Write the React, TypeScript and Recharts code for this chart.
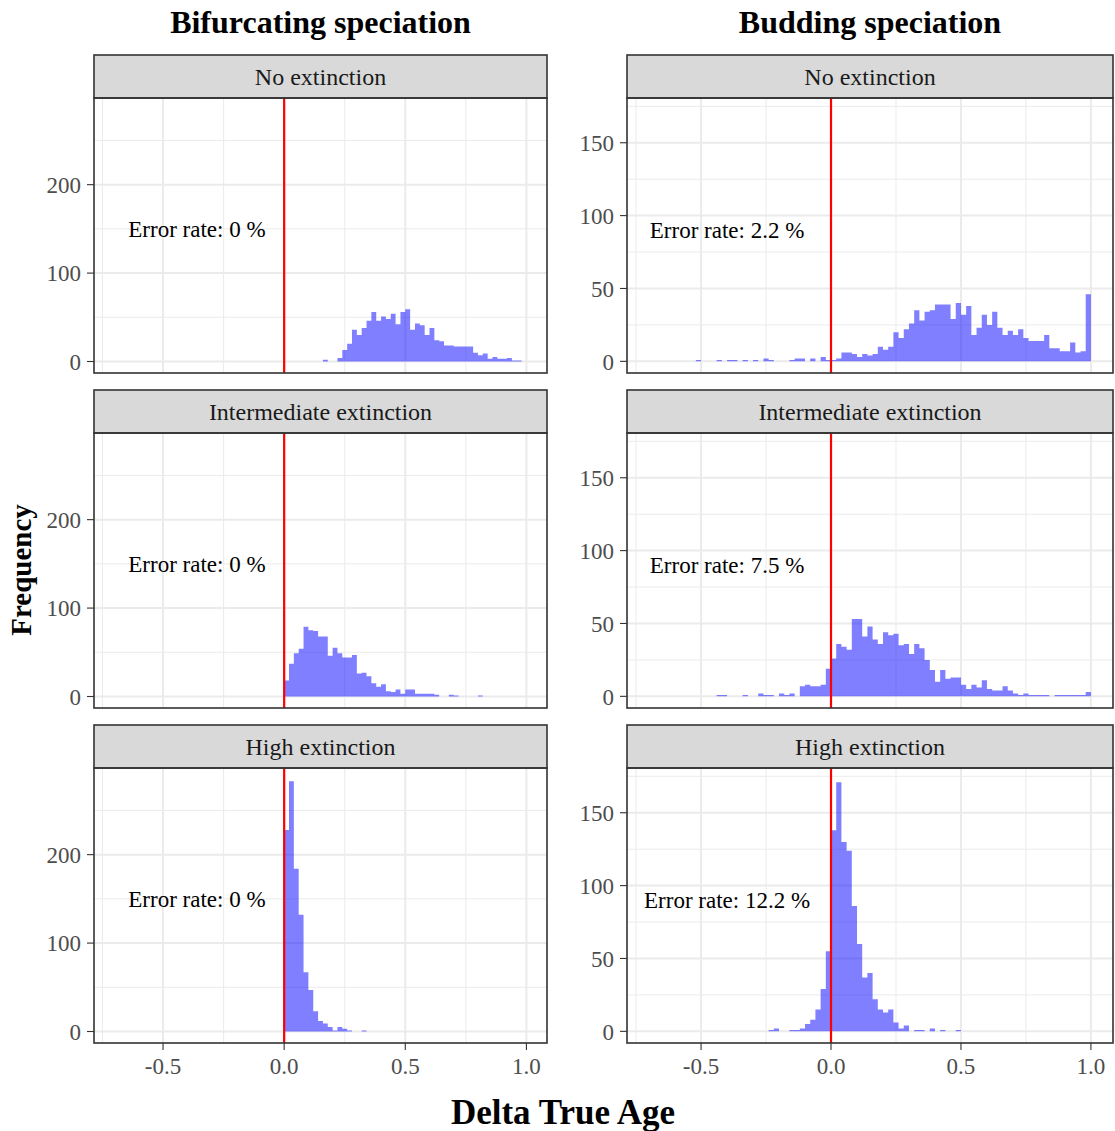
import React from 'react';
import { ComposedChart, Area, XAxis, YAxis, CartesianGrid, ReferenceLine, ReferenceDot } from 'recharts';

const FONT = "'Liberation Serif', 'Times New Roman', serif";
const BIN_WIDTH = 0.02;

const columnTitles = ['Bifurcating speciation', 'Budding speciation'];
const rowLabels = ['No extinction', 'Intermediate extinction', 'High extinction'];
const xTicks = [-0.5, 0, 0.5, 1.0];
const xMinor = [-0.75, -0.25, 0.25, 0.75];
const xDomain = [-0.785, 1.085];

const bifYTicks = [0, 100, 200];
const bifYMinor = [50, 150, 250];
const bifYDomain = [-13, 298];
const budYTicks = [0, 50, 100, 150];
const budYMinor = [25, 75, 125, 175];
const budYDomain = [-8, 180.7];

// Bifurcating speciation histograms (first bin left edge, counts per 0.02 bin)
const bifNoExtStart = 0.16;
const bifNoExtCounts = [2, 0, 0, 4, 13, 20, 36, 30, 38, 46, 56, 46, 51, 48, 54, 42, 56, 59, 36, 43, 41, 30, 38, 24, 23, 18, 18, 17, 17, 17, 17, 10, 7, 9, 3, 5, 3, 3, 4, 1, 1];
const bifMidExtStart = 0.0;
const bifMidExtCounts = [18, 37, 49, 54, 79, 75, 74, 68, 68, 46, 55, 49, 44, 44, 47, 26, 27, 23, 15, 11, 14, 6, 5, 8, 3, 8, 8, 3, 3, 3, 3, 2, 0, 0, 2, 1, 0, 0, 0, 0, 1];
const bifHighExtStart = 0.0;
const bifHighExtCounts = [228, 283, 184, 132, 67, 47, 23, 12, 9, 5, 1, 5, 3, 1, 0, 0, 1];

// Budding speciation histograms
const budNoExtStart = -0.52;
const budNoExtCounts = [1, 0, 0, 0, 1, 0, 1, 1, 0, 1, 0, 1, 0, 2, 1, 0, 0, 0, 1, 2, 2, 0, 2, 0, 3, 1, 1, 2, 6, 6, 5, 3, 5, 4, 5, 10, 8, 10, 20, 16, 22, 26, 35, 28, 34, 35, 39, 39, 39, 29, 40, 32, 38, 18, 23, 32, 25, 34, 23, 18, 21, 18, 22, 16, 14, 14, 14, 18, 9, 9, 7, 7, 13, 6, 7, 46];
const budMidExtStart = -0.44;
const budMidExtCounts = [1, 1, 0, 0, 0, 1, 0, 0, 2, 1, 1, 0, 2, 1, 2, 0, 7, 8, 7, 7, 8, 19, 26, 36, 34, 32, 53, 53, 41, 48, 39, 36, 44, 42, 43, 35, 36, 29, 36, 33, 25, 18, 10, 18, 12, 13, 13, 8, 5, 8, 6, 11, 5, 4, 4, 7, 4, 2, 1, 2, 1, 1, 1, 1, 0, 1, 1, 1, 1, 1, 1, 3];
const budHighExtStart = -0.24;
const budHighExtCounts = [1, 2, 0, 0, 1, 1, 2, 5, 8, 15, 29, 55, 138, 171, 130, 124, 86, 60, 37, 40, 22, 15, 13, 15, 6, 2, 4, 0, 1, 1, 0, 2, 0, 1, 0, 0, 1];

const bifErrorRates = ['0 %', '0 %', '0 %'];
const budErrorRates = ['2.2 %', '7.5 %', '12.2 %'];
const bifLabelPos = { x: -0.36, y: 150 };
const budLabelPos = { x: -0.4, y: 90 };

function toSteps(start: number, counts: number[]) {
  const rows = counts.map((c, i) => ({ x: +(start + i * BIN_WIDTH).toFixed(4), y: c }));
  rows.push({ x: +(start + counts.length * BIN_WIDTH).toFixed(4), y: 0 });
  return rows;
}

const fmtX = (v: number) => v.toFixed(1);

type PanelProps = {
  data: { x: number; y: number }[];
  yDomain: number[];
  yTicks: number[];
  yMinor: number[];
  showX: boolean;
  chartLeft: number;
  plotLeft: number;
  plotRight: number;
  plotTop: number;
  plotH: number;
  label: string;
  labelPos: { x: number; y: number };
};

function Panel(p: PanelProps) {
  const xAxisH = 45;
  const pad = 14;
  const width = p.plotRight - p.chartLeft;
  const height = p.plotH + (p.showX ? xAxisH : pad);
  return (
    <div style={{ position: 'absolute', left: p.chartLeft, top: p.plotTop }}>
      <ComposedChart width={width} height={height} data={p.data} margin={{ top: 0, right: 0, bottom: p.showX ? 0 : pad, left: 0 }}>
        <CartesianGrid stroke="#EBEBEB" strokeWidth={1} fill="none" verticalValues={xMinor} horizontalValues={p.yMinor} />
        <CartesianGrid stroke="#EBEBEB" strokeWidth={2} fill="none" verticalValues={xTicks} horizontalValues={p.yTicks} />
        <XAxis
          dataKey="x"
          type="number"
          domain={xDomain}
          ticks={xTicks}
          allowDataOverflow
          interval={0}
          hide={!p.showX}
          height={xAxisH}
          axisLine={false}
          tickSize={7}
          tickMargin={8}
          tickLine={{ stroke: '#333333', strokeWidth: 1.1 }}
          tick={{ fill: '#4D4D4D', fontSize: 23, fontFamily: FONT }}
          tickFormatter={fmtX}
        />
        <YAxis
          type="number"
          domain={p.yDomain}
          ticks={p.yTicks}
          allowDataOverflow
          interval={0}
          width={p.plotLeft - p.chartLeft}
          axisLine={false}
          tickSize={7}
          tickMargin={6}
          tickLine={{ stroke: '#333333', strokeWidth: 1.1 }}
          tick={{ fill: '#4D4D4D', fontSize: 23, fontFamily: FONT }}
        />
        <Area
          dataKey="y"
          type="stepAfter"
          baseValue={0}
          fill="#0000FF"
          fillOpacity={0.5}
          stroke="none"
          dot={false}
          activeDot={false}
          isAnimationActive={false}
        />
        <ReferenceLine x={0} stroke="#FF0000" strokeWidth={2.2} />
        <ReferenceDot
          x={p.labelPos.x}
          y={p.labelPos.y}
          r={0}
          fill="none"
          stroke="none"
          label={{ value: 'Error rate: ' + p.label, position: 'center', fontSize: 23, fill: '#000000', fontFamily: FONT }}
        />
      </ComposedChart>
    </div>
  );
}

const bifData = [toSteps(bifNoExtStart, bifNoExtCounts), toSteps(bifMidExtStart, bifMidExtCounts), toSteps(bifHighExtStart, bifHighExtCounts)];
const budData = [toSteps(budNoExtStart, budNoExtCounts), toSteps(budMidExtStart, budMidExtCounts), toSteps(budHighExtStart, budHighExtCounts)];

const STRIP_TOPS = [55, 390, 725];
const STRIP_H = 43;
const PLOT_H = 275;
const COLS = [
  { chartLeft: 0, plotLeft: 94, plotRight: 547 },
  { chartLeft: 560, plotLeft: 627, plotRight: 1113 },
];

export default function App() {
  return (
    <div style={{ position: 'absolute', left: 0, top: 0, width: 1115, height: 1131, background: '#FFFFFF', overflow: 'hidden', fontFamily: FONT }}>
      {STRIP_TOPS.map((st, r) => (
        <React.Fragment key={'r' + r}>
          <Panel
            data={bifData[r]}
            yDomain={bifYDomain}
            yTicks={bifYTicks}
            yMinor={bifYMinor}
            showX={r === 2}
            chartLeft={COLS[0].chartLeft}
            plotLeft={COLS[0].plotLeft}
            plotRight={COLS[0].plotRight}
            plotTop={st + STRIP_H}
            plotH={PLOT_H}
            label={bifErrorRates[r]}
            labelPos={bifLabelPos}
          />
          <Panel
            data={budData[r]}
            yDomain={budYDomain}
            yTicks={budYTicks}
            yMinor={budYMinor}
            showX={r === 2}
            chartLeft={COLS[1].chartLeft}
            plotLeft={COLS[1].plotLeft}
            plotRight={COLS[1].plotRight}
            plotTop={st + STRIP_H}
            plotH={PLOT_H}
            label={budErrorRates[r]}
            labelPos={budLabelPos}
          />
        </React.Fragment>
      ))}
      <svg width={1115} height={1131} style={{ position: 'absolute', left: 0, top: 0, pointerEvents: 'none' }}>
        {COLS.map((c, ci) => (
          <g key={'c' + ci}>
            <text x={(c.plotLeft + c.plotRight) / 2} y={33} textAnchor="middle" fontSize={32} fontWeight="bold" fontFamily={FONT} fill="#000">
              {columnTitles[ci]}
            </text>
            {STRIP_TOPS.map((st, r) => (
              <g key={'s' + r}>
                <rect x={c.plotLeft} y={st} width={c.plotRight - c.plotLeft} height={STRIP_H} fill="#D9D9D9" stroke="#333333" strokeWidth={1.6} />
                <text x={(c.plotLeft + c.plotRight) / 2} y={st + 30} textAnchor="middle" fontSize={24} fontFamily={FONT} fill="#1A1A1A">
                  {rowLabels[r]}
                </text>
                <rect x={c.plotLeft} y={st + STRIP_H} width={c.plotRight - c.plotLeft} height={PLOT_H} fill="none" stroke="#333333" strokeWidth={1.6} />
              </g>
            ))}
          </g>
        ))}
        <text x={0} y={0} transform="translate(31,570) rotate(-90)" textAnchor="middle" fontSize={29} fontWeight="bold" fontFamily={FONT} fill="#000">
          Frequency
        </text>
        <text x={563} y={1124} textAnchor="middle" fontSize={35} fontWeight="bold" fontFamily={FONT} fill="#000">
          Delta True Age
        </text>
      </svg>
    </div>
  );
}
